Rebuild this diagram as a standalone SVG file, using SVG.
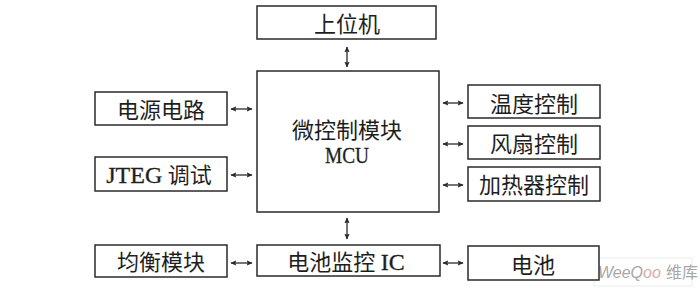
<svg xmlns="http://www.w3.org/2000/svg" width="700" height="290" viewBox="0 0 700 290">
<style>
.box{fill:#fff;stroke:#2a2a2a;stroke-width:1.5}
.t{font-family:"Liberation Serif","Noto Sans CJK SC",serif;font-size:22px;fill:#1e1e1e;text-anchor:middle}
.lat{font-size:24px;stroke:#1e1e1e;stroke-width:0.3}
.c{stroke:#2a2a2a;stroke-width:1.3;fill:none;marker-start:url(#ah);marker-end:url(#ah)}
.wm{font-family:"Liberation Sans","Noto Sans CJK SC",sans-serif;font-size:16px;fill:#a8a8a8}
</style>
<defs>
<marker id="ah" viewBox="0 0 10 10" refX="9" refY="5" markerWidth="6" markerHeight="6" orient="auto-start-reverse" markerUnits="userSpaceOnUse">
<path d="M0,0.5 L10,5 L0,9.5 L2,5 Z" fill="#2a2a2a"/>
</marker>
</defs>
<rect width="700" height="290" fill="#fff"/>
<g id="watermark">
<rect x="594" y="258" width="98" height="28" fill="none" stroke="#ececec" stroke-width="1"/>
<text x="598" y="278" class="wm" font-style="italic">WeeQ<tspan fill="#d8aaa6">oo</tspan></text>
<text x="666" y="278" class="wm" font-size="15px">维库</text>
</g>
<g id="shangweiji"><rect class="box" x="257" y="6" width="179" height="33"/><text class="t" x="347" y="32">上位机</text></g>
<g id="mcu"><rect class="box" x="257" y="71" width="182" height="141"/><text class="t" x="347" y="138">微控制模块</text><text class="t lat" x="347" y="163" textLength="44" lengthAdjust="spacingAndGlyphs">MCU</text></g>
<g id="dianyuan"><rect class="box" x="95" y="92" width="132" height="33"/><text class="t" x="161" y="118">电源电路</text></g>
<g id="jteg"><rect class="box" x="95" y="157" width="132" height="34"/><text class="t" x="159" y="183"><tspan class="lat">JTEG</tspan> 调试</text></g>
<g id="junheng"><rect class="box" x="95" y="245" width="132" height="32"/><text class="t" x="161" y="270">均衡模块</text></g>
<g id="jiankong"><rect class="box" x="257" y="245" width="183" height="31"/><text class="t" x="346" y="270">电池监控 <tspan class="lat">IC</tspan></text></g>
<g id="wendu"><rect class="box" x="468" y="85" width="132" height="33"/><text class="t" x="534" y="112">温度控制</text></g>
<g id="fengshan"><rect class="box" x="468" y="126" width="132" height="33"/><text class="t" x="534" y="152">风扇控制</text></g>
<g id="jiare"><rect class="box" x="468" y="167" width="132" height="34"/><text class="t" x="534" y="193">加热器控制</text></g>
<g id="dianchi"><rect class="box" x="468" y="246" width="131" height="34"/><text class="t" x="533" y="273">电池</text></g>
<g id="connectors">
<line class="c" x1="347" y1="47" x2="347" y2="67"/>
<line class="c" x1="347" y1="218" x2="347" y2="239"/>
<line class="c" x1="231" y1="109" x2="252" y2="109"/>
<line class="c" x1="231" y1="175" x2="252" y2="175"/>
<line class="c" x1="231" y1="263" x2="252" y2="263"/>
<line class="c" x1="443" y1="103" x2="463" y2="103"/>
<line class="c" x1="443" y1="144" x2="463" y2="144"/>
<line class="c" x1="443" y1="185" x2="463" y2="185"/>
<line class="c" x1="443" y1="263" x2="463" y2="263"/>
</g>
</svg>
